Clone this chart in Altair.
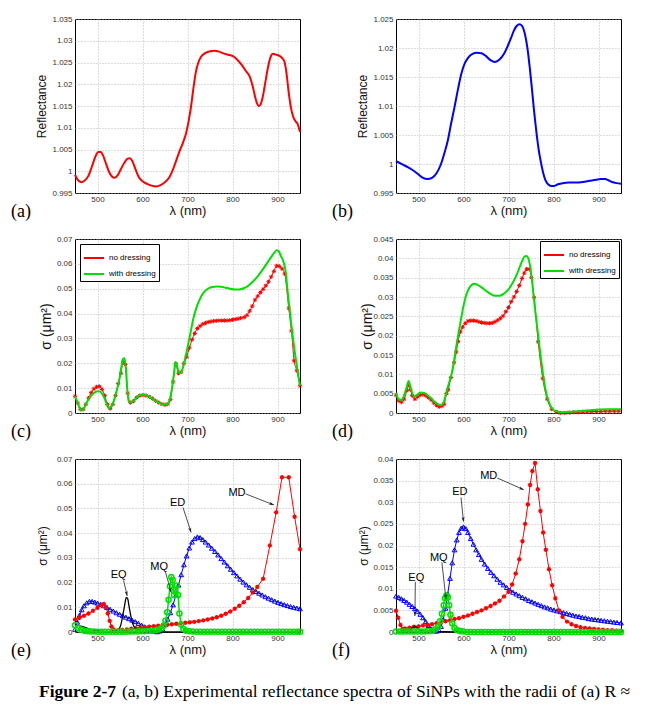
import math
import altair as alt
import pandas as pd

FONT = "Liberation Sans"
SERIF = "Liberation Serif"
RED = "#ff0000"
BLUE = "#0000ff"
GREEN = "#00e000"
W = 225
H = 174
H2 = 173

x_ticks = [500, 600, 700, 800, 900]

# ---------------- (a) measured reflectance ----------------
a_wl = [450, 458, 465, 472, 480, 488, 495, 502, 507, 512, 518, 525, 532, 538, 545, 552, 560, 567, 572, 578,
        585, 592, 600, 610, 620, 630, 640, 650, 660, 668, 675, 682, 690, 697, 703, 708, 713, 718, 724, 730,
        740, 750, 760, 770, 780, 790, 800, 810, 820, 830, 838, 845, 850, 855, 858, 862, 867, 873, 880, 886,
        890, 897, 905, 912, 916, 920, 925, 930, 935, 940, 945, 950]
a_refl = [0.9992, 0.9978, 0.9975, 0.9979, 0.9990, 1.0012, 1.0033, 1.0044, 1.0044, 1.0037, 1.0020, 1.0000,
          0.9988, 0.9985, 0.9991, 1.0005, 1.0020, 1.0029, 1.0030, 1.0022, 1.0003, 0.9986, 0.9977, 0.9971,
          0.9967, 0.9965, 0.9968, 0.9975, 0.9987, 1.0005, 1.0025, 1.0045, 1.0066, 1.0088, 1.0118, 1.0150,
          1.0190, 1.0225, 1.0250, 1.0263, 1.0272, 1.0276, 1.0277, 1.0275, 1.0271, 1.0268, 1.0265, 1.0257,
          1.0245, 1.0230, 1.0218, 1.0195, 1.0172, 1.0155, 1.0150, 1.0153, 1.0170, 1.0205, 1.0245, 1.0266,
          1.0270, 1.0268, 1.0265, 1.0258, 1.0250, 1.0225, 1.0180, 1.0145, 1.0125, 1.0115, 1.0108, 1.0090]
a_yticks = [0.995, 1.0, 1.005, 1.01, 1.015, 1.02, 1.025, 1.03, 1.035]

# ---------------- (b) measured reflectance ----------------
b_wl = [450, 460, 470, 480, 490, 500, 510, 520, 530, 540, 550, 558, 565, 572, 580, 588, 595, 602, 610, 620,
        630, 640, 650, 660, 670, 680, 690, 698, 705, 712, 718, 725, 731, 737, 742, 747, 752, 757, 762, 767,
        772, 777, 782, 788, 795, 800, 810, 820, 835, 850, 865, 880, 895, 905, 915, 922, 930, 940, 950]
b_refl = [1.0005, 1.0001, 0.9997, 0.9993, 0.9988, 0.9982, 0.9976, 0.9974, 0.9976, 0.9984, 1.0000, 1.0020,
          1.0040, 1.0068, 1.0098, 1.0130, 1.0155, 1.0172, 1.0183, 1.0190, 1.0192, 1.0191, 1.0186, 1.0179,
          1.0176, 1.0180, 1.0190, 1.0203, 1.0216, 1.0230, 1.0238, 1.0241, 1.0237, 1.0222, 1.0200, 1.0168,
          1.0130, 1.0090, 1.0055, 1.0025, 1.0003, 0.9985, 0.9972, 0.9965, 0.9962, 0.9962, 0.9965, 0.9967,
          0.9968, 0.9968, 0.9969, 0.9971, 0.9973, 0.9974, 0.9974, 0.9972, 0.9969, 0.9967, 0.9966]
b_yticks = [0.995, 1.0, 1.005, 1.01, 1.015, 1.02, 1.025]

# ---------------- (c) cross sections, dressing ----------------
c_with_wl = [450, 455, 460, 465, 470, 477, 485, 493, 500, 505, 510, 515, 520, 525, 530, 536, 542, 548, 553, 557,
             560, 563, 566, 569, 573, 580, 588, 595, 602, 610, 620, 630, 640, 648, 655, 660, 665, 670, 673, 676,
             680, 684, 688, 693, 698, 703, 708, 713, 720, 728, 736, 745, 755, 765, 775, 785, 795, 805, 815, 825,
             835, 845, 855, 865, 875, 885, 893, 898, 903, 908, 913, 918, 923, 928, 933, 938, 943, 950]
c_with = [0.0067, 0.0045, 0.0022, 0.0010, 0.0020, 0.0045, 0.0068, 0.0082, 0.0088, 0.0087, 0.0078, 0.0062,
          0.0038, 0.0020, 0.0025, 0.0048, 0.0085, 0.0130, 0.0185, 0.0218, 0.0220, 0.0180, 0.0100, 0.0050,
          0.0043, 0.0048, 0.0065, 0.0072, 0.0073, 0.0070, 0.0060, 0.0048, 0.0038, 0.0034, 0.0036, 0.0050,
          0.0095, 0.0160, 0.0205, 0.0195, 0.0165, 0.0160, 0.0172, 0.0205, 0.0245, 0.0290, 0.0335, 0.0380,
          0.0425, 0.0460, 0.0485, 0.0500, 0.0507, 0.0509, 0.0508, 0.0504, 0.0500, 0.0497, 0.0497, 0.0502,
          0.0512, 0.0528, 0.0548, 0.0572, 0.0598, 0.0625, 0.0645, 0.0655, 0.0650, 0.0630, 0.0610, 0.0570,
          0.0480, 0.0400, 0.0320, 0.0250, 0.0190, 0.0110]
c_no_wl = [450, 456, 462, 468, 474, 480, 486, 492, 498, 504, 510, 516, 522, 528, 534, 540, 546, 552, 557, 562,
           567, 573, 580, 587, 594, 601, 608, 615, 622, 629, 636, 643, 650, 656, 662, 668, 674, 680, 686, 692,
           698, 704, 710, 716, 722, 728, 734, 740, 746, 752, 758, 764, 770, 776, 782, 788, 794, 800, 806, 812,
           818, 826, 832, 838, 844, 850, 856, 862, 868, 874, 880, 886, 892, 898, 904, 910, 916, 925, 931, 937,
           943, 950]
c_no = [0.0067, 0.0040, 0.0015, 0.0015, 0.0035, 0.0060, 0.0082, 0.0097, 0.0105, 0.0107, 0.0095, 0.0070,
        0.0035, 0.0018, 0.0035, 0.0070, 0.0118, 0.0160, 0.0205, 0.0195, 0.0080, 0.0042, 0.0048, 0.0062,
        0.0070, 0.0072, 0.0070, 0.0065, 0.0058, 0.0049, 0.0042, 0.0036, 0.0033, 0.0036, 0.0055, 0.0125,
        0.0198, 0.0160, 0.0165, 0.0200, 0.0225, 0.0262, 0.0295, 0.0320, 0.0340, 0.0350, 0.0358, 0.0362,
        0.0366, 0.0368, 0.0370, 0.0371, 0.0372, 0.0372, 0.0372, 0.0372, 0.0373, 0.0375, 0.0377, 0.0379,
        0.0382, 0.0385, 0.0393, 0.0410, 0.0430, 0.0455, 0.0470, 0.0485, 0.0498, 0.0512, 0.0528, 0.0548,
        0.0570, 0.0592, 0.0590, 0.0580, 0.0560, 0.0422, 0.0330, 0.0210, 0.0170, 0.0110]
c_yticks = [0, 0.01, 0.02, 0.03, 0.04, 0.05, 0.06, 0.07]
dress_names = ["no dressing", "with dressing"]

# ---------------- (d) cross sections, dressing ----------------
d_with_wl = [450, 455, 460, 465, 470, 474, 478, 481, 485, 490, 495, 500, 505, 512, 520, 528, 536, 543, 549, 554,
             558, 563, 568, 573, 578, 583, 588, 594, 600, 606, 612, 618, 624, 630, 640, 650, 660, 670, 680, 690,
             700, 710, 718, 725, 731, 736, 740, 744, 748, 752, 756, 760, 765, 770, 775, 780, 785, 790, 795, 800,
             808, 820, 840, 860, 880, 900, 925, 950]
d_with = [0.0052, 0.0037, 0.0033, 0.0037, 0.0052, 0.0068, 0.0083, 0.0072, 0.0055, 0.0043, 0.0045, 0.0050,
          0.0053, 0.0052, 0.0046, 0.0038, 0.0029, 0.0023, 0.0020, 0.0024, 0.0035, 0.0058, 0.0078, 0.0098,
          0.0128, 0.0165, 0.0200, 0.0240, 0.0277, 0.0305, 0.0322, 0.0331, 0.0334, 0.0332, 0.0325, 0.0316,
          0.0308, 0.0303, 0.0303, 0.0309, 0.0320, 0.0338, 0.0357, 0.0378, 0.0395, 0.0405, 0.0406, 0.0400,
          0.0380, 0.0345, 0.0300, 0.0258, 0.0210, 0.0160, 0.0115, 0.0075, 0.0045, 0.0027, 0.0015, 0.0008,
          0.0004, 0.0002, 0.0003, 0.0005, 0.0007, 0.0009, 0.0010, 0.0010]
d_no_wl = [450, 456, 462, 468, 474, 478, 482, 486, 492, 498, 504, 510, 516, 522, 528, 534, 540, 546, 552, 557,
           562, 566, 572, 579, 584, 588, 593, 598, 604, 610, 616, 622, 628, 634, 640, 646, 652, 658, 664, 670,
           676, 682, 688, 694, 700, 706, 712, 718, 724, 730, 735, 740, 746, 751, 757, 766, 776, 786, 796, 806,
           815, 825, 835, 845, 855, 865, 875, 885, 895, 905, 915, 925, 935, 945]
d_no = [0.0046, 0.0032, 0.0028, 0.0036, 0.0058, 0.0072, 0.0060, 0.0045, 0.0036, 0.0042, 0.0047, 0.0048,
        0.0045, 0.0040, 0.0034, 0.0026, 0.0020, 0.0016, 0.0018, 0.0023, 0.0050, 0.0060, 0.0092, 0.0130,
        0.0158, 0.0185, 0.0210, 0.0222, 0.0232, 0.0238, 0.0239, 0.0239, 0.0238, 0.0236, 0.0234, 0.0233,
        0.0232, 0.0232, 0.0233, 0.0236, 0.0240, 0.0245, 0.0251, 0.0262, 0.0273, 0.0288, 0.0300, 0.0314,
        0.0330, 0.0348, 0.0362, 0.0372, 0.0372, 0.0350, 0.0298, 0.0184, 0.0090, 0.0036, 0.0010, 0.0003,
        0.0000, 0.0000, 0.0001, 0.0002, 0.0002, 0.0003, 0.0003, 0.0004, 0.0004, 0.0004, 0.0005, 0.0005,
        0.0005, 0.0005]
d_yticks = [0, 0.005, 0.01, 0.015, 0.02, 0.025, 0.03, 0.035, 0.04, 0.045]

# ---------------- (e) multipole decomposition ----------------
e_md_wl = [450, 460, 470, 480, 490, 500, 508, 514, 519, 523, 527, 531, 536, 545, 555, 565, 575, 585, 595, 605,
           615, 625, 635, 645, 655, 665, 675, 685, 695, 705, 715, 725, 735, 745, 755, 765, 775, 785, 795, 805,
           815, 825, 835, 845, 855, 868, 883, 897, 910, 925, 938, 950]
e_md = [0.0051, 0.0058, 0.0066, 0.0075, 0.0086, 0.0098, 0.0109, 0.0113, 0.0100, 0.0075, 0.0045, 0.0022,
        0.0010, 0.0006, 0.0008, 0.0010, 0.0013, 0.0015, 0.0017, 0.0019, 0.0021, 0.0023, 0.0025, 0.0027,
        0.0029, 0.0031, 0.0033, 0.0035, 0.0037, 0.0039, 0.0041, 0.0044, 0.0047, 0.0051, 0.0055, 0.0060,
        0.0066, 0.0074, 0.0083, 0.0094, 0.0106, 0.0120, 0.0138, 0.0160, 0.0182, 0.0215, 0.0350, 0.0484,
        0.0626, 0.0626, 0.0466, 0.0335]
e_ed_wl = [450, 455, 460, 465, 470, 476, 482, 488, 494, 500, 507, 514, 521, 528, 535, 542, 549, 556, 563, 570,
           577, 584, 591, 598, 605, 612, 619, 626, 632, 638, 644, 650, 656, 662, 668, 674, 680, 686, 692, 698,
           704, 710, 716, 722, 728, 734, 740, 747, 754, 761, 768, 775, 782, 789, 796, 803, 810, 817, 824, 831,
           838, 845, 852, 859, 866, 873, 880, 887, 894, 901, 908, 915, 922, 929, 936, 943, 950]
e_ed = [0.0011, 0.0040, 0.0068, 0.0090, 0.0106, 0.0118, 0.0124, 0.0124, 0.0121, 0.0117, 0.0112, 0.0106,
        0.0099, 0.0092, 0.0085, 0.0078, 0.0072, 0.0066, 0.0060, 0.0054, 0.0048, 0.0042, 0.0035, 0.0028,
        0.0021, 0.0014, 0.0008, 0.0003, 0.0001, 0.0004, 0.0013, 0.0030, 0.0052, 0.0078, 0.0110, 0.0148,
        0.0190, 0.0232, 0.0272, 0.0308, 0.0340, 0.0364, 0.0378, 0.0385, 0.0382, 0.0374, 0.0364, 0.0352,
        0.0339, 0.0326, 0.0312, 0.0297, 0.0283, 0.0268, 0.0254, 0.0240, 0.0227, 0.0214, 0.0202, 0.0191,
        0.0181, 0.0172, 0.0164, 0.0157, 0.0150, 0.0143, 0.0137, 0.0131, 0.0125, 0.0120, 0.0115, 0.0111,
        0.0107, 0.0103, 0.0100, 0.0097, 0.0094]
e_eq_wl = [450, 460, 470, 480, 490, 500, 515, 530, 540, 547, 552, 556, 560, 564, 567, 570, 574, 578, 584, 592,
           605, 640, 700, 800, 950]
e_eq = [0.0031, 0.0025, 0.0020, 0.0014, 0.0009, 0.0005, 0.0002, 0.0001, 0.0003, 0.0010, 0.0030, 0.0065,
        0.0105, 0.0140, 0.0135, 0.0105, 0.0065, 0.0035, 0.0015, 0.0006, 0.0002, 0.0001, 0.0000, 0.0000, 0.0000]
e_mq_wl = [450, 457, 464, 471, 478, 485, 493, 501, 509, 517, 525, 533, 541, 549, 557, 565, 573, 581, 589, 597,
           605, 613, 621, 629, 636, 642, 647, 651, 655, 658, 661, 664, 667, 670, 673, 676, 679, 682, 686, 691,
           697, 704, 712, 720, 728, 736, 744, 752, 760, 768, 776, 784, 792, 800, 808, 816, 824, 832, 840, 848,
           856, 864, 872, 880, 888, 896, 904, 912, 920, 928, 936, 944, 950]
e_mq = [0.0027, 0.0016, 0.0009, 0.0005, 0.0003, 0.0002, 0.0002, 0.0001, 0.0001, 0.0001, 0.0001, 0.0001,
        0.0001, 0.0001, 0.0001, 0.0001, 0.0002, 0.0002, 0.0002, 0.0003, 0.0003, 0.0004, 0.0005, 0.0007,
        0.0010, 0.0015, 0.0025, 0.0045, 0.0080, 0.0130, 0.0185, 0.0222, 0.0210, 0.0150, 0.0170, 0.0188,
        0.0150, 0.0075, 0.0030, 0.0012, 0.0005, 0.0003, 0.0002, 0.0001, 0.0001, 0.0001, 0.0001, 0.0001,
        0.0001, 0.0001, 0.0001, 0.0001, 0.0001, 0.0001, 0.0001, 0.0001, 0.0001, 0.0001, 0.0001, 0.0001,
        0.0001, 0.0001, 0.0001, 0.0001, 0.0001, 0.0001, 0.0001, 0.0001, 0.0001, 0.0001, 0.0001, 0.0001, 0.0001]
e_yticks = [0, 0.01, 0.02, 0.03, 0.04, 0.05, 0.06, 0.07]
e_ann = ["MD", "ED", "MQ", "EQ"]
e_ann_tx = [810, 678, 637, 547]
e_ann_ty = [0.0561, 0.0520, 0.0265, 0.0230]
e_arr_x1 = [829, 690, 651, 558]
e_arr_y1 = [0.0559, 0.0504, 0.0243, 0.0209]
e_arr_x2 = [892, 708, 664, 566]
e_arr_y2 = [0.0514, 0.0403, 0.0159, 0.0146]

# ---------------- (f) multipole decomposition ----------------
f_md_wl = [450, 455, 460, 465, 470, 480, 490, 500, 510, 520, 530, 540, 550, 560, 570, 580, 590, 600, 610, 620,
           630, 640, 650, 660, 670, 680, 690, 700, 708, 716, 724, 731, 737, 743, 748, 753, 759, 765, 771, 777,
           783, 790, 797, 804, 812, 820, 830, 840, 850, 860, 870, 880, 890, 900, 910, 920, 930, 940, 950]
f_md = [0.0049, 0.0033, 0.0016, 0.0007, 0.0008, 0.0010, 0.0012, 0.0013, 0.0015, 0.0016, 0.0018, 0.0020,
        0.0022, 0.0025, 0.0027, 0.0030, 0.0032, 0.0035, 0.0038, 0.0042, 0.0046, 0.0050, 0.0055, 0.0060,
        0.0066, 0.0072, 0.0082, 0.0093, 0.0110, 0.0135, 0.0168, 0.0210, 0.0250, 0.0295, 0.0340, 0.0372,
        0.0391, 0.0330, 0.0280, 0.0230, 0.0190, 0.0145, 0.0108, 0.0078, 0.0050, 0.0035, 0.0024, 0.0018,
        0.0014, 0.0011, 0.0009, 0.0008, 0.0007, 0.0006, 0.0005, 0.0004, 0.0004, 0.0003, 0.0003]
f_ed_wl = [450, 456, 462, 468, 474, 480, 486, 492, 498, 504, 510, 516, 522, 528, 534, 540, 545, 550, 555, 560,
           565, 570, 575, 580, 585, 590, 595, 600, 605, 610, 616, 622, 628, 634, 640, 647, 654, 661, 668, 675,
           682, 689, 696, 703, 710, 717, 724, 731, 738, 745, 752, 759, 766, 773, 780, 787, 794, 801, 808, 815,
           822, 829, 836, 843, 850, 857, 864, 871, 878, 885, 892, 899, 906, 913, 920, 927, 934, 941, 950]
f_ed = [0.0083, 0.0080, 0.0077, 0.0073, 0.0069, 0.0064, 0.0059, 0.0054, 0.0048, 0.0041, 0.0033, 0.0024,
        0.0015, 0.0007, 0.0003, 0.0002, 0.0005, 0.0013, 0.0029, 0.0055, 0.0088, 0.0124, 0.0160, 0.0190,
        0.0213, 0.0230, 0.0240, 0.0243, 0.0239, 0.0230, 0.0216, 0.0203, 0.0190, 0.0179, 0.0168, 0.0157,
        0.0147, 0.0138, 0.0130, 0.0122, 0.0115, 0.0109, 0.0103, 0.0097, 0.0092, 0.0088, 0.0084, 0.0080,
        0.0077, 0.0073, 0.0070, 0.0067, 0.0064, 0.0061, 0.0058, 0.0056, 0.0053, 0.0051, 0.0049, 0.0047,
        0.0045, 0.0043, 0.0041, 0.0039, 0.0037, 0.0036, 0.0034, 0.0033, 0.0031, 0.0030, 0.0029, 0.0028,
        0.0027, 0.0026, 0.0025, 0.0024, 0.0023, 0.0022, 0.0021]
f_eq_wl = [450, 470, 480, 486, 491, 496, 502, 510, 525, 560, 600, 700, 800, 950]
f_eq = [0.0000, 0.0001, 0.0004, 0.0009, 0.0013, 0.0010, 0.0005, 0.0002, 0.0001, 0.0001, 0.0000, 0.0000,
        0.0000, 0.0000]
f_mq_wl = [450, 458, 466, 474, 482, 490, 498, 506, 514, 522, 530, 537, 543, 548, 552, 556, 559, 562, 565, 568,
           571, 575, 580, 586, 593, 600, 608, 616, 624, 632, 640, 648, 656, 664, 672, 680, 688, 696, 704, 712,
           720, 728, 736, 744, 752, 760, 768, 776, 784, 792, 800, 808, 816, 824, 832, 840, 848, 856, 864, 872,
           880, 888, 896, 904, 912, 920, 928, 936, 944, 950]
f_mq = [0.0001, 0.0001, 0.0001, 0.0001, 0.0001, 0.0001, 0.0001, 0.0001, 0.0001, 0.0002, 0.0003, 0.0006,
        0.0012, 0.0025, 0.0042, 0.0062, 0.0078, 0.0084, 0.0080, 0.0062, 0.0040, 0.0020, 0.0009, 0.0004,
        0.0002, 0.0001, 0.0000, 0.0000, 0.0000, 0.0000, 0.0000, 0.0000, 0.0000, 0.0000, 0.0000, 0.0000,
        0.0000, 0.0000, 0.0000, 0.0000, 0.0000, 0.0000, 0.0000, 0.0000, 0.0000, 0.0000, 0.0000, 0.0000,
        0.0000, 0.0000, 0.0000, 0.0000, 0.0000, 0.0000, 0.0000, 0.0000, 0.0000, 0.0000, 0.0000, 0.0000,
        0.0000, 0.0000, 0.0000, 0.0000, 0.0000, 0.0000, 0.0000, 0.0000, 0.0000, 0.0000]
f_yticks = [0, 0.005, 0.01, 0.015, 0.02, 0.025, 0.03, 0.035, 0.04]
f_ann = ["MD", "ED", "MQ", "EQ"]
f_ann_tx = [656, 592, 545, 495]
f_ann_ty = [0.0360, 0.0323, 0.0172, 0.0126]
f_arr_x1 = [675, 594.5, 552, 493]
f_arr_y1 = [0.0356, 0.0311, 0.0161, 0.0116]
f_arr_x2 = [734, 600, 561, 492]
f_arr_y2 = [0.0329, 0.0255, 0.0076, 0.0037]

panel_labels = ["(a)", "(b)", "(c)", "(d)", "(e)", "(f)"]
caption_bold = "Figure 2-7"
caption_rest = "(a, b) Experimental reflectance spectra of SiNPs with the radii of (a) R ≈"

ASTERISK = "M-1,0L1,0M0,-1L0,1M-0.7,-0.7L0.7,0.7M-0.7,0.7L0.7,-0.7"
ARROWHEAD = "M0,0L-0.55,1.7L0,1.35L0.55,1.7Z"


def encoders(h, ydom, yticks, yfmt, ytitle, ytsize, ytx):
    xs = alt.Scale(domain=[450, 950], nice=False, zero=False)
    xa = alt.Axis(values=x_ticks, format="d", title="λ (nm)", titleFontSize=13, titleY=17,
                  titleBaseline="middle", labelPadding=2)
    ys = alt.Scale(domain=ydom, nice=False, zero=False)
    ya = alt.Axis(values=yticks, format=yfmt, title=ytitle, titleFontSize=ytsize, titleX=ytx,
                  titleY=h / 2, titleBaseline="middle", titleAngle=270, labelPadding=3)

    def X(f):
        return alt.X(f, type="quantitative", scale=xs, axis=xa)

    def Y(f):
        return alt.Y(f, type="quantitative", scale=ys, axis=ya)
    return X, Y


def label_layer(txt, h):
    return alt.Chart(pd.DataFrame({"t": [txt]})).mark_text(
        font=SERIF, fontSize=18, align="left", baseline="middle", color="black"
    ).encode(text="t:N", x=alt.value(-64), y=alt.value(h + 19))


def df(wl, v):
    return pd.DataFrame({"wl": wl, "s": v})


def annotations(X, Y, h, ymax, names, tx, ty, x1, y1, x2, y2):
    angs = []
    for i in range(len(names)):
        dx = (x2[i] - x1[i]) * W / 500.0
        dy = -(y2[i] - y1[i]) * h / ymax
        angs.append(math.degrees(math.atan2(dx, -dy)) % 360)
    d = pd.DataFrame({"n": names, "tx": tx, "ty": ty, "x1": x1, "y1": y1, "x2": x2, "y2": y2, "ang": angs})
    base = alt.Chart(d)
    txt = base.mark_text(font=FONT, fontSize=11, color="black").encode(X("tx"), Y("ty"), text="n:N")
    rule = base.mark_rule(color="#222", strokeWidth=0.8).encode(X("x1"), Y("y1"), x2="x2:Q", y2="y2:Q")
    head = base.mark_point(shape=ARROWHEAD, filled=True, color="#222", size=30, opacity=1).encode(
        X("x2"), Y("y2"), angle=alt.Angle("ang:Q", scale=None))
    return [rule, head, txt]


# (a)
Xa, Ya = encoders(H, [0.995, 1.035], a_yticks, ".3~f", "Reflectance", 12, -34)
pa = alt.layer(
    alt.Chart(df(a_wl, a_refl)).mark_line(color=RED, strokeWidth=2, interpolate="monotone").encode(Xa("wl"), Ya("s")),
    label_layer(panel_labels[0], H),
).properties(width=W, height=H)

# (b)
Xb, Yb = encoders(H, [0.995, 1.025], b_yticks, ".3~f", "Reflectance", 12, -34)
pb = alt.layer(
    alt.Chart(df(b_wl, b_refl)).mark_line(color=BLUE, strokeWidth=2, interpolate="monotone").encode(Xb("wl"), Yb("s")),
    label_layer(panel_labels[1], H),
).properties(width=W, height=H)


def dressing_panel(X, Y, no_wl, no_v, with_wl, with_v, orient, offset, label):
    cs = alt.Scale(domain=dress_names, range=[RED, GREEN])
    lg = alt.Legend(orient=orient, offset=offset, title=None, labelFont=FONT, labelFontSize=8,
                    symbolType="stroke", symbolStrokeWidth=2, symbolSize=400, fillColor="white",
                    strokeColor="black", padding=3, rowPadding=1, labelOffset=4)
    dno = pd.DataFrame({"wl": no_wl, "s": no_v, "k": [dress_names[0]] * len(no_wl)})
    dwi = pd.DataFrame({"wl": with_wl, "s": with_v, "k": [dress_names[1]] * len(with_wl)})
    red_line = alt.Chart(dno).mark_line(strokeWidth=1, interpolate="monotone").encode(
        X("wl"), Y("s"), color=alt.Color("k:N", scale=cs, legend=lg))
    red_pts = alt.Chart(dno).mark_point(shape=ASTERISK, filled=False, color=RED, size=18, strokeWidth=1,
                                        opacity=1).encode(X("wl"), Y("s"))
    green_line = alt.Chart(dwi).mark_line(strokeWidth=2, interpolate="monotone").encode(
        X("wl"), Y("s"), color=alt.Color("k:N", scale=cs, legend=lg))
    return alt.layer(red_line, red_pts, green_line, label_layer(label, H)).properties(width=W, height=H)


Xc, Yc = encoders(H, [0, 0.07], c_yticks, ".2~f", "σ (μm²)", 14, -29)
pc = dressing_panel(Xc, Yc, c_no_wl, c_no, c_with_wl, c_with, "top-left", 5, panel_labels[2])
Xd, Yd = encoders(H, [0, 0.045], d_yticks, ".3~f", "σ (μm²)", 14, -29)
pd_ = dressing_panel(Xd, Yd, d_no_wl, d_no, d_with_wl, d_with, "top-right", 2, panel_labels[3])


def multipole_panel(X, Y, ymax, md, ed, eq, mq, ann, label, extra=None):
    layers = [
        alt.Chart(df(*ed)).mark_line(color=BLUE, strokeWidth=1).encode(X("wl"), Y("s")),
        alt.Chart(df(*ed)).mark_point(shape="triangle-up", filled=False, color=BLUE, size=22,
                                      strokeWidth=1, opacity=1).encode(X("wl"), Y("s")),
        alt.Chart(df(*md)).mark_line(color=RED, strokeWidth=1).encode(X("wl"), Y("s")),
        alt.Chart(df(*md)).mark_point(shape=ASTERISK, filled=False, color=RED, size=20,
                                      strokeWidth=1.2, opacity=1).encode(X("wl"), Y("s")),
        alt.Chart(df(*eq)).mark_line(color="black", strokeWidth=1.3, interpolate="monotone").encode(X("wl"), Y("s")),
        alt.Chart(df(*mq)).mark_line(color=GREEN, strokeWidth=1.5).encode(X("wl"), Y("s")),
        alt.Chart(df(*mq)).mark_point(shape="circle", filled=False, color=GREEN, size=26,
                                      strokeWidth=1.5, opacity=1).encode(X("wl"), Y("s")),
    ]
    layers += annotations(X, Y, H2, ymax, *ann)
    layers.append(label_layer(label, H2))
    if extra:
        layers += extra
    return alt.layer(*layers).properties(width=W, height=H2)


Xe, Ye = encoders(H2, [0, 0.07], e_yticks, ".2~f", "σ (μm²)", 12, -33)
cap = pd.DataFrame({"b": [caption_bold], "r": [caption_rest]})
caption_layers = [
    alt.Chart(cap).mark_text(font=SERIF, fontSize=17.5, fontWeight="bold", align="left", baseline="middle",
                             color="black").encode(text="b:N", x=alt.value(-36), y=alt.value(233)),
    alt.Chart(cap).mark_text(font=SERIF, fontSize=17.5, align="left", baseline="middle",
                             color="black").encode(text="r:N", x=alt.value(47), y=alt.value(233)),
]
pe = multipole_panel(Xe, Ye, 0.07, (e_md_wl, e_md), (e_ed_wl, e_ed), (e_eq_wl, e_eq), (e_mq_wl, e_mq),
                     (e_ann, e_ann_tx, e_ann_ty, e_arr_x1, e_arr_y1, e_arr_x2, e_arr_y2), panel_labels[4],
                     caption_layers)
Xf, Yf = encoders(H2, [0, 0.04], f_yticks, ".3~f", "σ (μm²)", 12, -33)
pf = multipole_panel(Xf, Yf, 0.04, (f_md_wl, f_md), (f_ed_wl, f_ed), (f_eq_wl, f_eq), (f_mq_wl, f_mq),
                     (f_ann, f_ann_tx, f_ann_ty, f_arr_x1, f_arr_y1, f_arr_x2, f_arr_y2), panel_labels[5])

chart = alt.concat(pa, pb, pc, pd_, pe, pf, columns=2, spacing={"row": 46, "column": 96}, bounds="flush")
chart = chart.configure(
    padding={"left": 10, "top": 14, "right": 5, "bottom": 5}, background="white"
).configure_axis(
    labelFont=FONT, labelFontSize=8, labelColor="#333", titleFont=FONT, titleFontWeight="normal",
    titleColor="#111", domain=False, ticks=False, grid=True, gridColor="#a8a8a8", gridDash=[1, 2],
    gridWidth=0.8
).configure_view(stroke="black", strokeWidth=1)

chart.save("out.html", embed_options={"renderer": "svg", "actions": False})
